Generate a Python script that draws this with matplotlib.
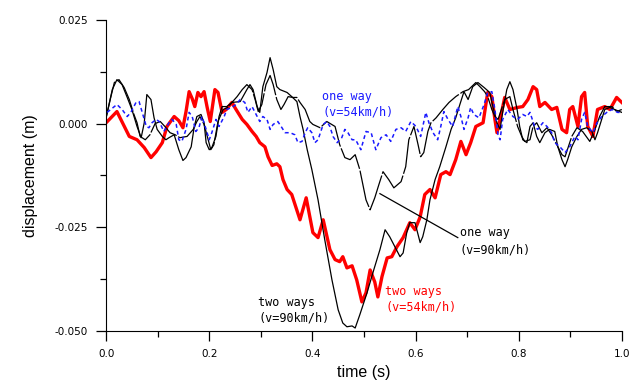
import numpy as np
import matplotlib
matplotlib.use("Agg")
import matplotlib.pyplot as plt
from matplotlib.ticker import MultipleLocator, FormatStrFormatter

plt.rcParams["axes.unicode_minus"] = False

# displacement, in mm (converted to m when plotted)
t_two54 = [0.000, 0.021, 0.045, 0.060, 0.074, 0.087, 0.097, 0.109, 0.118, 0.132, 0.141, 0.149, 0.155, 0.161,
           0.167, 0.172, 0.178, 0.184, 0.190, 0.196, 0.202, 0.211, 0.217, 0.225, 0.233, 0.244, 0.252, 0.264,
           0.273, 0.283, 0.291, 0.298, 0.308, 0.314, 0.322, 0.331, 0.337, 0.343, 0.351, 0.360, 0.376, 0.388,
           0.401, 0.411, 0.421, 0.434, 0.444, 0.453, 0.459, 0.467, 0.477, 0.486, 0.496, 0.504, 0.512, 0.521,
           0.527, 0.535, 0.545, 0.554, 0.564, 0.576, 0.589, 0.599, 0.609, 0.618, 0.628, 0.638, 0.649, 0.659,
           0.667, 0.678, 0.688, 0.698, 0.707, 0.717, 0.731, 0.740, 0.748, 0.754, 0.758, 0.764, 0.773, 0.783,
           0.798, 0.808, 0.818, 0.828, 0.835, 0.841, 0.851, 0.864, 0.874, 0.884, 0.893, 0.899, 0.905, 0.915,
           0.922, 0.928, 0.934, 0.944, 0.953, 0.967, 0.977, 0.990, 1.000]
d_two54 = [0.2, 2.9, -3.1, -3.9, -5.8, -8.2, -6.8, -4.6, -0.7, 1.7, 0.7, -1.0, 2.9, 7.7,
           6.0, 4.1, 7.5, 6.5, 7.7, 3.9, 0.5, 8.2, 7.5, 2.7, 3.4, 5.1, 3.4, 1.0,
           -0.2, -1.9, -3.1, -4.6, -5.6, -8.0, -10.1, -9.7, -10.4, -13.5, -15.9, -17.1, -23.2, -17.9,
           -26.3, -27.5, -23.2, -30.4, -32.8, -33.3, -32.1, -34.8, -34.3, -37.7, -43.0, -40.8, -35.3, -38.2,
           -41.8, -36.9, -32.4, -32.1, -29.7, -27.5, -23.9, -25.6, -22.5, -17.1, -15.9, -17.9, -12.3, -11.6,
           -12.3, -8.7, -4.3, -7.5, -4.6, -0.7, 0.2, 7.5, 6.5, 1.0, -2.2, 1.0, 6.3, 3.4,
           3.9, 4.1, 5.8, 8.9, 8.2, 4.1, 5.1, 3.4, 3.9, -1.4, -2.2, 3.4, 4.1, -0.7,
           6.5, 7.5, -0.7, -3.1, 3.4, 4.1, 3.4, 6.3, 5.1]

t_two90 = [0.000, 0.012, 0.021, 0.031, 0.041, 0.050, 0.060, 0.068, 0.074, 0.079, 0.087, 0.093, 0.099, 0.109,
           0.116, 0.122, 0.132, 0.141, 0.149, 0.155, 0.165, 0.171, 0.176, 0.184, 0.190, 0.194, 0.200, 0.205,
           0.213, 0.219, 0.225, 0.234, 0.244, 0.260, 0.273, 0.279, 0.285, 0.293, 0.298, 0.304, 0.312, 0.318,
           0.324, 0.331, 0.337, 0.351, 0.360, 0.370, 0.376, 0.382, 0.390, 0.399, 0.411, 0.424, 0.438, 0.450,
           0.459, 0.467, 0.477, 0.483, 0.492, 0.506, 0.519, 0.531, 0.541, 0.550, 0.560, 0.570, 0.576, 0.583,
           0.589, 0.599, 0.609, 0.614, 0.622, 0.628, 0.638, 0.647, 0.659, 0.669, 0.678, 0.686, 0.694, 0.702,
           0.711, 0.721, 0.733, 0.744, 0.750, 0.758, 0.764, 0.769, 0.777, 0.783, 0.789, 0.797, 0.802, 0.808,
           0.816, 0.822, 0.828, 0.835, 0.841, 0.851, 0.860, 0.870, 0.876, 0.884, 0.890, 0.895, 0.903, 0.913,
           0.922, 0.932, 0.942, 0.948, 0.953, 0.961, 0.967, 0.977, 0.986, 1.000]
d_two90 = [1.4, 8.2, 10.6, 9.4, 6.3, 3.4, -0.7, -3.4, 0.2, 7.0, 5.8, 1.4, -1.4, -3.1,
           -3.9, -3.4, -2.7, -6.3, -8.9, -8.2, -5.6, -0.7, 1.7, 2.2, 0.2, -4.6, -6.3, -5.8,
           -3.1, 1.7, 4.1, 4.1, 5.1, 5.3, 8.2, 9.4, 8.2, 4.1, 2.7, 8.9, 12.3, 15.9,
           13.0, 8.9, 8.2, 7.5, 6.5, 5.3, 1.7, -1.4, -6.3, -11.1, -18.4, -28.0, -37.7, -44.9,
           -48.1, -49.0, -48.8, -49.3, -46.1, -40.8, -35.3, -30.4, -25.6, -27.3, -29.7, -32.1, -31.2, -26.3,
           -23.9, -23.9, -28.7, -27.3, -23.2, -18.4, -13.5, -10.4, -5.6, -1.4, 1.4, 4.6, 7.7, 5.8,
           8.9, 9.9, 8.7, 7.5, 4.1, 0.2, -1.4, 2.7, 8.2, 10.1, 8.2, 3.4, -0.7, -3.9,
           -4.6, -0.7, 0.2, -3.1, -4.6, -2.2, -1.4, -1.9, -5.6, -8.7, -10.4, -8.7, -5.6, -3.1,
           -1.4, -1.0, -1.9, -3.9, -2.2, 1.0, 3.4, 3.9, 3.4, 2.7]

t_one90 = [0.000, 0.008, 0.016, 0.025, 0.035, 0.045, 0.054, 0.060, 0.066, 0.076, 0.085, 0.095, 0.105, 0.114,
           0.124, 0.134, 0.143, 0.157, 0.169, 0.176, 0.182, 0.190, 0.198, 0.203, 0.209, 0.217, 0.227, 0.236,
           0.244, 0.254, 0.264, 0.273, 0.283, 0.289, 0.295, 0.302, 0.310, 0.318, 0.324, 0.331, 0.339, 0.345,
           0.353, 0.362, 0.370, 0.376, 0.386, 0.395, 0.401, 0.415, 0.428, 0.444, 0.453, 0.463, 0.473, 0.483,
           0.492, 0.504, 0.512, 0.521, 0.529, 0.537, 0.548, 0.558, 0.572, 0.581, 0.587, 0.597, 0.605, 0.610,
           0.616, 0.624, 0.630, 0.640, 0.653, 0.665, 0.678, 0.692, 0.703, 0.717, 0.725, 0.734, 0.740, 0.748,
           0.754, 0.760, 0.773, 0.783, 0.789, 0.798, 0.806, 0.812, 0.822, 0.828, 0.835, 0.845, 0.855, 0.864,
           0.874, 0.884, 0.890, 0.903, 0.913, 0.924, 0.938, 0.948, 0.957, 0.967, 0.981, 0.990, 1.000]
d_one90 = [1.4, 5.8, 9.9, 10.6, 8.7, 5.8, 2.2, 0.2, -3.1, -3.9, -2.7, 0.0, 0.5, -0.7,
           -2.2, -2.7, -3.4, -3.1, -1.4, 0.5, 1.7, -0.2, -3.9, -6.3, -5.1, 0.5, 3.4, 3.9,
           5.1, 6.5, 8.2, 9.4, 8.2, 5.8, 2.9, 4.6, 9.4, 11.6, 9.4, 5.8, 3.4, 4.6,
           6.5, 6.3, 6.3, 5.1, 3.4, 0.5, -0.2, -1.0, 0.5, -0.7, -5.1, -8.2, -8.7, -7.5,
           -11.1, -18.4, -20.8, -17.9, -14.7, -11.6, -13.5, -15.5, -14.0, -10.4, -3.9, -0.7, -5.1, -8.0,
           -7.0, -1.9, 0.2, 1.4, 3.4, 5.1, 6.5, 7.7, 8.2, 9.9, 8.9, 7.7, 6.5, 3.4,
           1.7, 1.0, 5.8, 6.5, 3.4, -0.7, -3.1, -4.3, -3.9, -0.7, 0.2, -2.2, -1.0, -2.7,
           -5.1, -7.5, -8.0, -3.1, -1.0, -1.9, -4.3, -1.4, 1.7, 4.1, 4.1, 2.9, 3.4]

t_one54 = [0.002, 0.016, 0.021, 0.031, 0.041, 0.048, 0.058, 0.064, 0.070, 0.078, 0.083, 0.089, 0.097, 0.103,
           0.112, 0.122, 0.128, 0.136, 0.141, 0.147, 0.155, 0.161, 0.167, 0.174, 0.180, 0.186, 0.194, 0.200,
           0.205, 0.213, 0.219, 0.229, 0.234, 0.244, 0.252, 0.260, 0.269, 0.275, 0.283, 0.293, 0.298, 0.304,
           0.312, 0.318, 0.324, 0.333, 0.341, 0.347, 0.357, 0.366, 0.372, 0.380, 0.386, 0.391, 0.399, 0.405,
           0.411, 0.421, 0.428, 0.434, 0.440, 0.448, 0.457, 0.463, 0.469, 0.477, 0.484, 0.494, 0.504, 0.514,
           0.523, 0.533, 0.543, 0.552, 0.562, 0.572, 0.581, 0.591, 0.601, 0.610, 0.620, 0.626, 0.634, 0.643,
           0.649, 0.655, 0.663, 0.672, 0.682, 0.688, 0.694, 0.702, 0.707, 0.713, 0.723, 0.733, 0.740, 0.748,
           0.754, 0.760, 0.764, 0.769, 0.779, 0.789, 0.798, 0.808, 0.816, 0.822, 0.831, 0.837, 0.847, 0.855,
           0.864, 0.870, 0.880, 0.890, 0.899, 0.909, 0.915, 0.922, 0.928, 0.934, 0.944, 0.952, 0.961, 0.971,
           0.981, 0.992, 1.000]
d_one54 = [2.7, 4.1, 4.6, 3.4, 1.7, 2.7, 5.1, 5.3, 2.7, -0.7, -1.0, 0.2, 1.0, 0.5,
           -1.9, 0.2, 1.0, -0.2, -3.9, -4.3, -1.4, 2.7, 1.7, -1.9, -1.0, 1.7, -1.4, -3.9,
           -2.2, 1.0, -0.7, 1.7, 3.4, 3.9, 4.6, 5.8, 5.1, 2.7, 4.1, 1.7, 0.5, 1.7,
           1.0, -1.4, -0.2, 0.5, -1.0, -2.2, -2.2, -2.7, -4.6, -4.3, -2.2, -1.0, -2.2, -4.6,
           -3.9, -0.2, 0.5, -0.7, -3.1, -4.6, -3.4, -1.4, -2.2, -3.9, -3.9, -6.3, -1.9, -2.2,
           -6.3, -3.4, -2.7, -4.3, -1.4, -1.0, -1.9, 0.5, -0.7, -3.1, 2.7, 0.2, -2.2, -3.9,
           -0.7, 2.9, 1.0, -0.7, 4.1, 1.7, -1.4, 1.4, 3.9, 2.2, 1.4, 4.6, 7.5, 7.7,
           3.4, -2.7, -3.9, 1.0, 3.4, 1.7, 1.0, 2.2, 1.7, 2.7, -0.7, -1.4, 0.2, -0.7,
           -2.2, -4.6, -5.6, -7.0, -5.6, -3.1, -3.9, 1.0, 2.7, -0.7, -2.2, 0.2, 1.7, 2.7,
           3.4, 2.7, 2.7]

fig = plt.figure(figsize=(6.43, 3.83), dpi=100)
ax = fig.add_axes([0.165, 0.136, 0.802, 0.812])

ax.plot(t_two54, np.array(d_two54) / 1000, color="#ff0000", lw=2.4, zorder=2)
ax.plot(t_two90, np.array(d_two90) / 1000, color="black", lw=0.9, zorder=3)
ax.plot(t_one90, np.array(d_one90) / 1000, color="black", lw=0.9, ls=(0, (30, 1.5)), zorder=3)
ax.plot(t_one54, np.array(d_one54) / 1000, color="#1a1aff", lw=1.1, ls=(0, (2.5, 2)), zorder=4)

ax.set_xlim(0, 1.0)
ax.set_ylim(-0.05, 0.025)
ax.spines["top"].set_visible(False)
ax.spines["right"].set_visible(False)
ax.xaxis.set_major_locator(MultipleLocator(0.2))
ax.xaxis.set_minor_locator(MultipleLocator(0.1))
ax.yaxis.set_major_locator(MultipleLocator(0.025))
ax.yaxis.set_minor_locator(MultipleLocator(0.0125))
ax.xaxis.set_major_formatter(FormatStrFormatter("%.1f"))
ax.yaxis.set_major_formatter(FormatStrFormatter("%.3f"))
ax.tick_params(which="major", direction="out", length=7, width=0.9, labelsize=7.5, pad=6)
ax.tick_params(which="minor", direction="out", length=4, width=0.9)

ax.set_xlabel("time (s)", fontsize=11.5, family="Liberation Sans", labelpad=4)
ax.set_ylabel("displacement (m)", fontsize=11.5, family="Liberation Sans", labelpad=12)

mono = "DejaVu Sans Mono"
ax.text(0.419, 0.0065, "one way", color="#1a1aff", fontsize=8.5, family=mono, va="center")
ax.text(0.419, 0.0029, "(v=54km/h)", color="#1a1aff", fontsize=8.5, family=mono, va="center")
ax.text(0.686, -0.0263, "one way", color="black", fontsize=8.5, family=mono, va="center")
ax.text(0.686, -0.0304, "(v=90km/h)", color="black", fontsize=8.5, family=mono, va="center")
ax.text(0.541, -0.0406, "two ways", color="#ff0000", fontsize=8.5, family=mono, va="center")
ax.text(0.541, -0.0442, "(v=54km/h)", color="#ff0000", fontsize=8.5, family=mono, va="center")
ax.text(0.295, -0.0432, "two ways", color="black", fontsize=8.5, family=mono, va="center")
ax.text(0.295, -0.0469, "(v=90km/h)", color="black", fontsize=8.5, family=mono, va="center")

# leader line to the one way (v=90km/h) label
ax.plot([0.531, 0.682], [-0.0169, -0.0275], color="black", lw=0.9, zorder=3)

fig.savefig("out.png", dpi=100)
